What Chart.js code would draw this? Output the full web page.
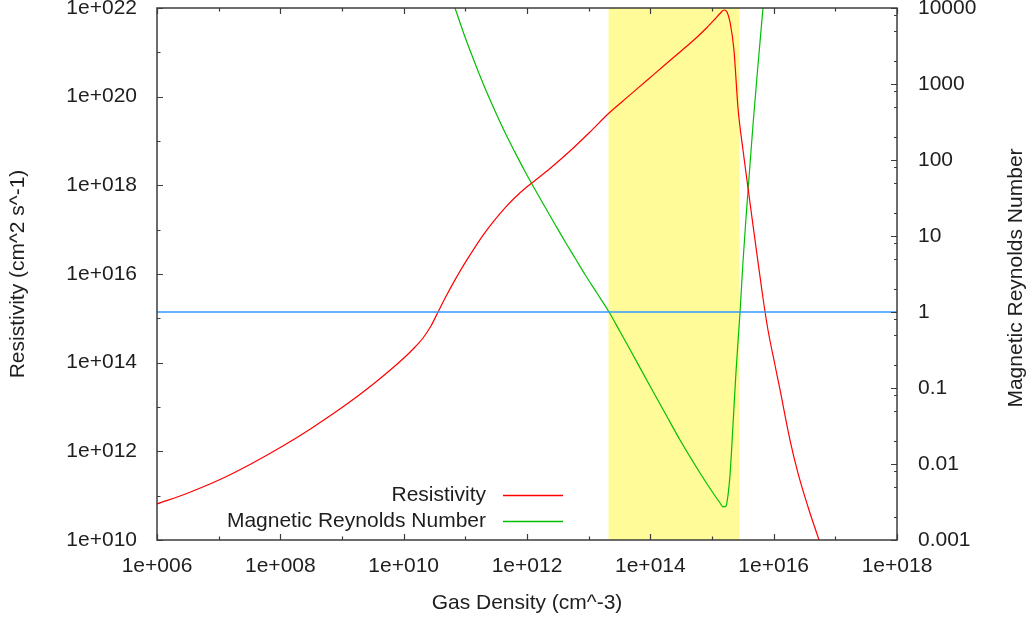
<!DOCTYPE html>
<html>
<head>
<meta charset="utf-8">
<title>Resistivity and Magnetic Reynolds Number</title>
<script src="https://cdn.jsdelivr.net/npm/chart.js@4.4.1/dist/chart.umd.min.js"></script>
<style>
  html, body { margin: 0; padding: 0; background: #fff; }
  canvas { display: block; }
</style>
</head>
<body>
<canvas id="rmChart" width="1033" height="621"></canvas>
<script>
// resistivity (cm^2 s^-1) against gas density (cm^-3)
const etaDensity = [
  1.00e6, 3.18e6, 1.01e7, 3.22e7, 1.03e8, 3.26e8, 1.04e9, 3.30e9, 1.05e10,
  1.53e10, 2.06e10, 2.77e10, 3.61e10, 4.68e10, 6.80e10, 9.88e10, 1.44e11,
  2.08e11, 3.03e11, 4.40e11, 6.39e11, 1.00e12, 1.35e12, 2.36e12, 4.98e12,
  1.05e13, 2.14e13, 4.34e13, 8.83e13, 1.73e14, 3.03e14, 5.30e14, 8.30e14,
  1.12e15, 1.35e15, 1.57e15, 1.75e15, 1.96e15, 2.27e15, 2.64e15, 3.18e15,
  3.84e15, 4.62e15, 5.57e15, 6.71e15, 8.09e15, 1.05e16, 1.27e16, 1.84e16,
  2.48e16, 3.61e16, 5.43e16, 8.20e16
];
const resistivity = [
  6.49e10, 1.15e11, 2.25e11, 5.05e11, 1.25e12, 3.38e12, 1.01e13, 3.39e13, 1.34e14,
  2.26e14, 3.60e14, 6.71e14, 1.39e15, 2.83e15, 7.36e15, 1.78e16, 4.05e16,
  8.55e16, 1.68e17, 3.10e17, 5.32e17, 9.27e17, 1.29e18, 2.40e18, 5.95e18,
  1.60e19, 4.28e19, 1.00e20, 2.34e20, 5.24e20, 1.02e21, 2.00e21, 3.63e21,
  5.65e21, 7.52e21, 9.02e21, 8.13e21, 4.83e21, 1.13e21, 5.55e19, 6.27e18,
  8.71e17, 1.27e17, 1.87e16, 2.88e15, 5.46e14, 8.86e13, 2.42e13, 1.80e12,
  3.24e11, 5.55e10, 1.00e10, 1.62e9
];

// magnetic Reynolds number against gas density
const rmDensity = [
  4.68e10, 6.80e10, 9.88e10, 1.44e11, 2.08e11, 3.03e11, 4.40e11, 6.39e11,
  9.28e11, 1.35e12, 1.96e12, 2.85e12, 4.13e12, 6.00e12, 8.72e12, 1.36e13,
  2.14e13, 3.22e13, 4.68e13, 9.88e13, 1.73e14, 3.03e14, 6.39e14, 1.04e15,
  1.35e15, 1.51e15, 1.69e15, 1.82e15, 1.96e15, 2.19e15, 2.45e15, 2.85e15,
  3.18e15, 3.56e15, 3.98e15, 4.62e15, 5.57e15, 6.71e15, 7.51e15
];
const reynolds = [
  2.48e4, 1.0e4, 4150, 1862, 885, 442, 230, 126,
  70.6, 40.9, 24.1, 14.2, 8.47, 5.14, 3.11, 1.78,
  1.0, 0.553, 0.321, 0.106, 0.0469, 0.0207, 0.00762, 0.00415,
  0.00307, 0.00272, 0.00280, 0.00391, 0.00716, 0.0326, 0.163, 1.0,
  4.55, 17.3, 58.0, 289, 1778, 1.0e4, 2.80e4
];

// Rm = 1 level and the density window where Rm stays below it
const rmThreshold = 1;
const deadZone = [2.1e13, 2.8e15];

const xRange = [1e6, 1e18];
const yRange = [1e10, 1e22];
const y2Range = [0.001, 10000];

const xTicks = [1e6, 1e8, 1e10, 1e12, 1e14, 1e16, 1e18];
const xTickLabels = ['1e+006', '1e+008', '1e+010', '1e+012', '1e+014', '1e+016', '1e+018'];
const yTicks = [1e10, 1e12, 1e14, 1e16, 1e18, 1e20, 1e22];
const yTickLabels = ['1e+010', '1e+012', '1e+014', '1e+016', '1e+018', '1e+020', '1e+022'];
const y2Ticks = [0.001, 0.01, 0.1, 1, 10, 100, 1000, 10000];
const y2TickLabels = ['0.001', '0.01', '0.1', '1', '10', '100', '1000', '10000'];

const FONT = '"Liberation Sans", Arial, Helvetica, sans-serif';
const TEXT = '#1e1e1e';
const FRAME = '#3c3c3c';
const RED = '#ff0000';
const GREEN = '#00c000';
const BLUE = '#3399ff';
const YELLOW = '#fffb99';

Chart.defaults.font.family = FONT;
Chart.defaults.font.size = 21;
Chart.defaults.color = TEXT;

function decades(lo, hi) {
  const out = [];
  for (let k = Math.round(Math.log10(lo)); k <= Math.round(Math.log10(hi)); k++) out.push(k);
  return out;
}

// yellow window behind the curves
const zoneBand = {
  id: 'zoneBand',
  beforeDatasetsDraw(chart) {
    const { ctx, chartArea: a, scales } = chart;
    const x0 = scales.x.getPixelForValue(deadZone[0]);
    const x1 = scales.x.getPixelForValue(deadZone[1]);
    ctx.save();
    ctx.fillStyle = YELLOW;
    ctx.fillRect(x0, a.top, x1 - x0, a.bottom - a.top);
    ctx.restore();
  }
};

// box around the plot with inward tick marks, gnuplot style
const frameTicks = {
  id: 'frameTicks',
  afterDatasetsDraw(chart) {
    const { ctx, chartArea: a, scales } = chart;
    ctx.save();
    ctx.strokeStyle = FRAME;
    ctx.lineWidth = 1.2;
    ctx.beginPath();
    decades(xRange[0], xRange[1]).forEach(k => {
      const px = Math.round(scales.x.getPixelForValue(Math.pow(10, k))) + 0.5;
      const len = k % 2 === 0 ? 6 : 3.5;
      ctx.moveTo(px, a.bottom); ctx.lineTo(px, a.bottom - len);
      ctx.moveTo(px, a.top); ctx.lineTo(px, a.top + len);
    });
    decades(yRange[0], yRange[1]).forEach(k => {
      const py = Math.round(scales.y.getPixelForValue(Math.pow(10, k))) + 0.5;
      const len = k % 2 === 0 ? 6 : 3.5;
      ctx.moveTo(a.left, py); ctx.lineTo(a.left + len, py);
    });
    decades(y2Range[0], y2Range[1]).forEach(k => {
      const base = Math.pow(10, k);
      const py = Math.round(scales.y2.getPixelForValue(base)) + 0.5;
      ctx.moveTo(a.right, py); ctx.lineTo(a.right - 6, py);
      [2, 5, 8].forEach(m => {
        const v = base * m;
        if (v > y2Range[1]) return;
        const pm = Math.round(scales.y2.getPixelForValue(v)) + 0.5;
        ctx.moveTo(a.right, pm); ctx.lineTo(a.right - 3, pm);
      });
    });
    ctx.stroke();
    ctx.lineWidth = 1.5;
    ctx.strokeRect(a.left, a.top, a.right - a.left, a.bottom - a.top);
    ctx.restore();
  }
};

// key in the lower part of the plot, text left of the line sample
const keyBox = {
  id: 'keyBox',
  afterDraw(chart) {
    const { ctx } = chart;
    const rows = [
      { label: 'Resistivity', color: RED, y: 495 },
      { label: 'Magnetic Reynolds Number', color: GREEN, y: 521 }
    ];
    rows.forEach(r => {
      ctx.save();
      ctx.font = '21px ' + FONT;
      ctx.fillStyle = TEXT;
      ctx.textAlign = 'right';
      ctx.textBaseline = 'middle';
      ctx.fillText(r.label, 486, r.y);
      ctx.restore();

      ctx.save();
      ctx.strokeStyle = r.color;
      ctx.lineWidth = 1.5;
      ctx.beginPath();
      ctx.moveTo(503, r.y + 0.5);
      ctx.lineTo(563, r.y + 0.5);
      ctx.stroke();
      ctx.restore();
    });
  }
};

// right axis title reads bottom to top like the left one
const rightTitle = {
  id: 'rightTitle',
  afterDraw(chart) {
    const { ctx, chartArea: a } = chart;
    ctx.save();
    ctx.font = '21px ' + FONT;
    ctx.fillStyle = TEXT;
    ctx.textAlign = 'center';
    ctx.textBaseline = 'middle';
    ctx.translate(1016, (a.top + a.bottom) / 2 + 4);
    ctx.rotate(-Math.PI / 2);
    ctx.fillText('Magnetic Reynolds Number', 0, 0);
    ctx.restore();
  }
};

function fixBox(size, vertical) {
  return scale => {
    if (vertical) {
      scale.width = size;
      scale.paddingTop = 0;
      scale.paddingBottom = 0;
    } else {
      scale.height = size;
      scale.paddingLeft = 0;
      scale.paddingRight = 0;
    }
  };
}

new Chart(document.getElementById('rmChart'), {
  type: 'line',
  data: {
    datasets: [
      {
        label: 'Rm = 1',
        data: xRange.map(d => ({ x: d, y: rmThreshold })),
        yAxisID: 'y2',
        borderColor: BLUE,
        borderWidth: 1.5
      },
      {
        label: 'Resistivity',
        data: etaDensity.map((d, i) => ({ x: d, y: resistivity[i] })),
        yAxisID: 'y',
        borderColor: RED,
        borderWidth: 1.2,
        cubicInterpolationMode: 'monotone'
      },
      {
        label: 'Magnetic Reynolds Number',
        data: rmDensity.map((d, i) => ({ x: d, y: reynolds[i] })),
        yAxisID: 'y2',
        borderColor: GREEN,
        borderWidth: 1.2,
        cubicInterpolationMode: 'monotone'
      }
    ]
  },
  options: {
    responsive: false,
    animation: false,
    devicePixelRatio: 1,
    layout: { padding: { top: 8, left: 0, right: 0, bottom: 0 } },
    elements: {
      point: { radius: 0, hoverRadius: 0 },
      line: { fill: false }
    },
    plugins: {
      legend: { display: false },
      tooltip: { enabled: false }
    },
    scales: {
      x: {
        type: 'logarithmic',
        position: 'bottom',
        min: xRange[0],
        max: xRange[1],
        grid: { display: false },
        border: { display: false },
        ticks: {
          autoSkip: false,
          maxRotation: 0,
          padding: 6,
          callback: (v, i) => xTickLabels[i]
        },
        afterBuildTicks: s => { s.ticks = xTicks.map(v => ({ value: v })); },
        afterFit: fixBox(81, false),
        title: {
          display: true,
          text: 'Gas Density (cm^-3)',
          padding: { top: 0, bottom: 5 }
        }
      },
      y: {
        type: 'logarithmic',
        position: 'left',
        min: yRange[0],
        max: yRange[1],
        grid: { display: false },
        border: { display: false },
        ticks: {
          autoSkip: false,
          padding: 12,
          callback: (v, i) => yTickLabels[i]
        },
        afterBuildTicks: s => { s.ticks = yTicks.map(v => ({ value: v })); },
        afterFit: fixBox(157, true),
        title: {
          display: true,
          text: 'Resistivity (cm^2 s^-1)',
          padding: { top: 6, bottom: 0 }
        }
      },
      y2: {
        type: 'logarithmic',
        position: 'right',
        min: y2Range[0],
        max: y2Range[1],
        grid: { display: false },
        border: { display: false },
        ticks: {
          autoSkip: false,
          padding: 13,
          callback: (v, i) => y2TickLabels[i]
        },
        afterBuildTicks: s => { s.ticks = y2Ticks.map(v => ({ value: v })); },
        afterFit: fixBox(136, true)
      }
    }
  },
  plugins: [zoneBand, frameTicks, keyBox, rightTitle]
});
</script>
</body>
</html>
